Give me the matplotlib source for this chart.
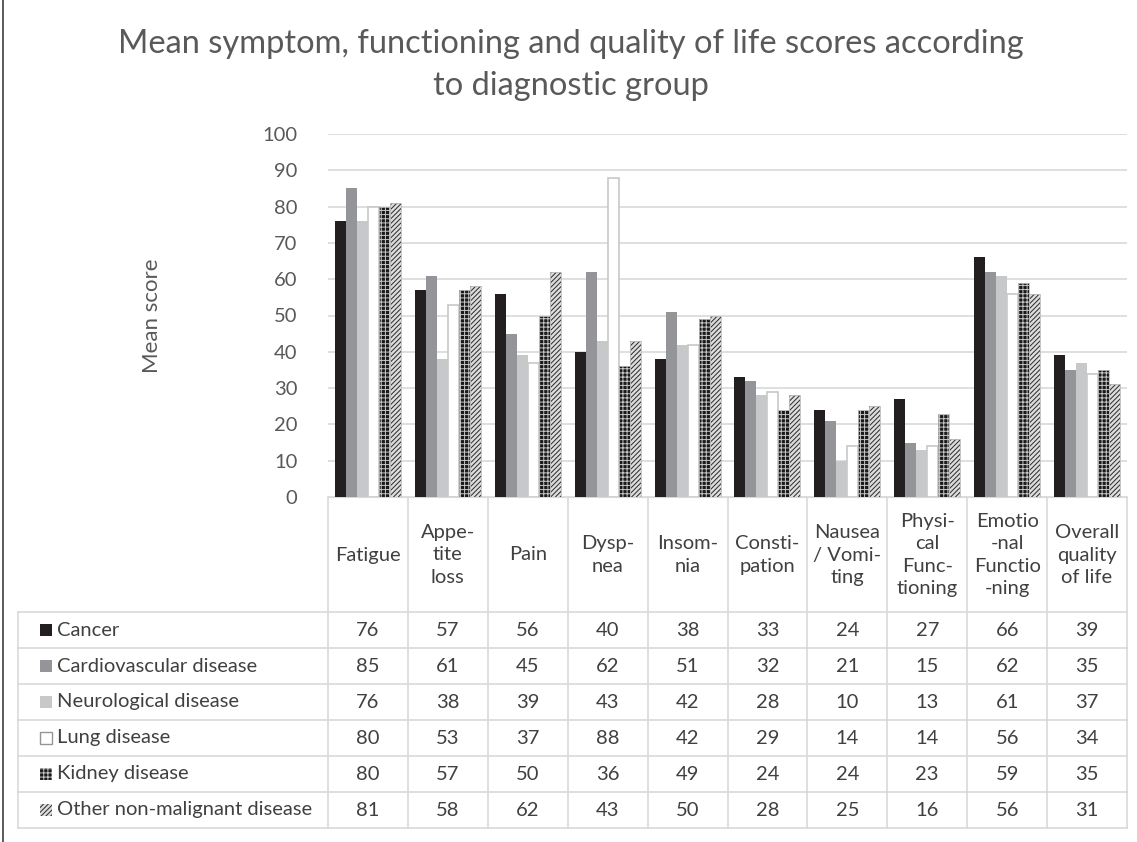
import numpy as np
import matplotlib
matplotlib.use('Agg')
import matplotlib.pyplot as plt
from matplotlib.patches import Rectangle

plt.rcParams['font.family'] = ['Lato', 'DejaVu Sans']
plt.rcParams['hatch.linewidth'] = 0.7

# categories (header labels as shown, with hyphenation)
categories = ["Fatigue", "Appe-\ntite\nloss", "Pain", "Dysp-\nnea", "Insom-\nnia",
              "Consti-\npation", "Nausea\n/ Vomi-\nting", "Physi-\ncal\nFunc-\ntioning",
              "Emotio\n-nal\nFunctio\n-ning", "Overall\nquality\nof life"]
groups = ["Cancer", "Cardiovascular disease", "Neurological disease",
          "Lung disease", "Kidney disease", "Other non-malignant disease"]

cancer = [76, 57, 56, 40, 38, 33, 24, 27, 66, 39]
cardio = [85, 61, 45, 62, 51, 32, 21, 15, 62, 35]
neuro = [76, 38, 39, 43, 42, 28, 10, 13, 61, 37]
lung = [80, 53, 37, 88, 42, 29, 14, 14, 56, 34]
kidney = [80, 57, 50, 36, 49, 24, 24, 23, 59, 35]
other = [81, 58, 62, 43, 50, 28, 25, 16, 56, 31]
series = [cancer, cardio, neuro, lung, kidney, other]

# styles per series: facecolor, edgecolor(hatch colour), hatch
styles = [
    dict(facecolor='#231f20', edgecolor='#231f20', hatch=None),
    dict(facecolor='#939598', edgecolor='#939598', hatch=None),
    dict(facecolor='#c7c8ca', edgecolor='#c7c8ca', hatch=None),
    dict(facecolor='white', edgecolor='#c7c8ca', hatch=None),
    dict(facecolor='#1a1a1a', edgecolor='#c8c8c8', hatch='++++'),
    dict(facecolor='#dcdcdc', edgecolor='#2a2a2a', hatch='///////'),
]

W, H = 1137, 842
fig = plt.figure(figsize=(W / 100, H / 100), dpi=100)

# pixel layout
x0, x1 = 328, 1127
y_top, y_base = 134, 497
ax = fig.add_axes([x0 / W, 1 - y_base / H, (x1 - x0) / W, (y_base - y_top) / H])

n = len(categories)
x = np.arange(n)
bw = 0.1375
for i, (vals, st) in enumerate(zip(series, styles)):
    pos = x - 2.5 * bw + i * bw
    if st['hatch']:
        ax.bar(pos, vals, width=bw, facecolor=st['facecolor'], edgecolor=st['edgecolor'],
               hatch=st['hatch'], linewidth=0, zorder=3)
        ax.bar(pos, vals, width=bw, fill=False, edgecolor='#bbbbbb', linewidth=0.6, zorder=4)
    elif st['facecolor'] == 'white':
        ax.bar(pos, vals, width=bw, facecolor='white', edgecolor=st['edgecolor'],
               linewidth=1.2, zorder=3)
    else:
        ax.bar(pos, vals, width=bw, color=st['facecolor'], linewidth=0, zorder=3)

ax.set_xlim(-0.5, n - 0.5)
ax.set_ylim(0, 100)
ax.set_yticks(range(0, 101, 10))
ax.yaxis.grid(True, color='#d9d9d9', linewidth=1.2, zorder=0)
ax.set_axisbelow(True)
ax.set_xticks([])
for s in ['top', 'right', 'left']:
    ax.spines[s].set_visible(False)
ax.spines['bottom'].set_color('#d9d9d9')
ax.tick_params(axis='y', length=0, labelsize=14.5, labelcolor='#595959', pad=22)
ax.set_ylabel("Mean score", fontsize=16, color='#595959', labelpad=72)

fig.text(0.502, 1 - 65 / H, "Mean symptom, functioning and quality of life scores according\nto diagnostic group",
         ha='center', va='center', fontsize=23.5, color='#595959', linespacing=1.5)

# data table drawn in pixel coords on an overlay axes
tab = fig.add_axes([0, 0, 1, 1])
tab.set_xlim(0, W)
tab.set_ylim(H, 0)
tab.axis('off')
line_c = '#d9d9d9'
colw = (x1 - x0) / n
row_top = 612
row_h = 36
tab_left = 18
n_rows = len(groups)
tab_bottom = row_top + n_rows * row_h
for k in range(n + 1):
    xx = x0 + k * colw
    tab.plot([xx, xx], [y_base, tab_bottom], color=line_c, lw=1.2)
for r in range(n_rows + 1):
    yy = row_top + r * row_h
    tab.plot([tab_left, x1], [yy, yy], color=line_c, lw=1.2)
tab.plot([tab_left, tab_left], [row_top, tab_bottom], color=line_c, lw=1.2)

fs = 14.5
for k, cat in enumerate(categories):
    tab.text(x0 + (k + 0.5) * colw, 555, cat, ha='center', va='center',
             fontsize=fs, color='#404040', linespacing=1.4)

for r, (g, vals, st) in enumerate(zip(groups, series, styles)):
    yc = row_top + (r + 0.5) * row_h
    sw = 12
    if st['hatch']:
        tab.add_patch(Rectangle((40, yc - sw / 2), sw, sw, facecolor=st['facecolor'],
                                edgecolor=st['edgecolor'], hatch=st['hatch'], linewidth=0))
    elif st['facecolor'] == 'white':
        tab.add_patch(Rectangle((40, yc - sw / 2), sw, sw, facecolor='white',
                                edgecolor='#939598', linewidth=1))
    else:
        tab.add_patch(Rectangle((40, yc - sw / 2), sw, sw, facecolor=st['facecolor'], linewidth=0))
    tab.text(57, yc, g, ha='left', va='center', fontsize=fs, color='#404040')
    for k, v in enumerate(vals):
        tab.text(x0 + (k + 0.5) * colw, yc, str(v), ha='center', va='center',
                 fontsize=fs, color='#404040')

# outer frame
tab.add_patch(Rectangle((3, -2), W + 10, H + 10, fill=False, edgecolor='#404040', lw=1.2))

fig.savefig('out.png', dpi=100)
